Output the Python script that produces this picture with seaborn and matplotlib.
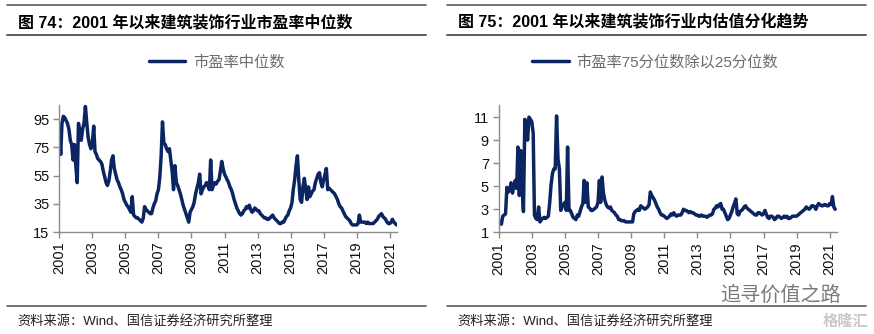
import numpy as np
import pandas as pd
import matplotlib
matplotlib.use("Agg")
import matplotlib.pyplot as plt
import matplotlib.dates as mdates
from matplotlib.lines import Line2D
import seaborn as sns

# ---------------- data (monthly) ----------------
start_month = "2001-01-01"

pe_median = [
    # 2001
    86, 70, 92, 97, 96, 94, 92, 88, 80, 77, 66, 77,
    # 2002
    62, 50, 92, 85, 80, 88, 92, 104, 92, 82, 77, 74,
    # 2003
    78, 90, 72, 70, 67, 66, 65, 63, 58, 54, 50, 48,
    # 2004
    51, 58, 66, 69, 60, 56, 52, 50, 47, 45, 42, 38,
    # 2005
    36, 34, 33, 31, 29, 40, 27, 26, 25, 25, 24, 23,
    # 2006
    22, 25, 33, 31, 30, 29, 28, 28, 32, 35, 37, 42,
    # 2007
    45, 54, 68, 93, 78, 77, 74, 72, 74, 66, 58, 45,
    # 2008
    62, 50, 48, 45, 42, 38, 34, 31, 28, 25, 22, 29,
    # 2009
    31, 33, 36, 42, 46, 50, 56, 42, 45, 47, 48, 50,
    # 2010
    48, 45, 66, 45, 48, 50, 49, 51, 52, 58, 65, 60,
    # 2011
    56, 54, 52, 50, 47, 45, 42, 38, 35, 32, 30, 28,
    # 2012
    27, 28, 30, 31, 33, 32, 34, 31, 29, 30, 32, 31,
    # 2013
    30, 30, 28, 27, 26, 25, 25, 24, 24, 25, 26, 27,
    # 2014
    25, 24, 23, 22, 21, 21, 22, 22, 24, 26, 27, 30,
    # 2015
    32, 36, 45, 52, 62, 69, 52, 38, 36, 47, 53, 45,
    # 2016
    38, 47, 40, 42, 44, 45, 50, 53, 56, 57, 50, 47,
    # 2017
    52, 56, 60, 45, 46, 45, 44, 43, 42, 40, 38, 35,
    # 2018
    33, 32, 30, 28, 26, 25, 24, 23, 21, 20, 20, 20,
    # 2019
    20, 21, 27, 22, 22, 22, 22, 21, 22, 21, 21, 21,
    # 2020
    21, 22, 23, 24, 26, 27, 28, 26, 25, 24, 22, 21,
    # 2021
    21, 22, 24, 22, 21, 20,
]

pe_q75_q25 = [
    # 2001
    2.0, 1.8, 1.7, 2.4, 2.5, 2.6, 4.9, 4.5, 4.7, 5.3, 4.4, 5.0,
    # 2002
    5.5, 4.8, 8.4, 4.2, 8.1, 5.0, 2.8, 10.8, 10.0, 9.0, 11.0, 10.8,
    # 2003
    10.6, 9.6, 2.5, 2.2, 2.1, 3.2, 1.9, 2.1, 2.2, 2.3, 2.2, 2.3,
    # 2004
    2.4, 3.6, 5.1, 6.1, 6.5, 6.5, 11.1, 7.4, 6.5, 2.9, 3.2, 3.4,
    # 2005
    3.6, 2.9, 8.4, 2.9, 2.9, 2.6, 2.3, 2.2, 2.1, 2.5, 2.4, 2.8,
    # 2006
    3.2, 3.5, 5.5, 3.6, 5.3, 3.2, 3.1, 2.9, 2.9, 3.0, 3.1, 3.2,
    # 2007
    3.6, 5.5, 3.6, 5.8, 4.4, 3.8, 3.4, 3.2, 3.1, 3.2, 2.9, 2.8,
    # 2008
    2.7, 2.5, 2.4, 2.1, 2.1, 2.0, 2.0, 2.0, 1.9, 1.9, 1.9, 1.9,
    # 2009
    1.9, 1.9, 2.6, 2.8, 2.9, 3.0, 2.9, 3.3, 3.2, 3.1, 3.0, 3.1,
    # 2010
    3.2, 3.4, 4.5, 4.2, 4.0, 3.8, 3.5, 3.2, 3.0, 2.7, 2.5, 2.5,
    # 2011
    2.4, 2.3, 2.2, 2.3, 2.4, 2.6, 2.5, 2.7, 2.5, 2.4, 2.5, 2.5,
    # 2012
    2.5, 2.7, 3.0, 2.9, 2.9, 2.8, 2.7, 2.8, 2.7, 2.7, 2.6, 2.5,
    # 2013
    2.5, 2.4, 2.4, 2.5, 2.4, 2.4, 2.4, 2.3, 2.4, 2.5, 2.5, 2.6,
    # 2014
    3.0, 3.1, 3.3, 3.2, 3.4, 3.5, 3.0, 3.0, 2.7, 2.4, 2.1, 2.2,
    # 2015
    2.5, 2.8, 3.2, 3.5, 3.9, 2.6, 2.5, 2.8, 2.9, 3.0, 3.2, 3.3,
    # 2016
    3.1, 3.0, 2.9, 2.8, 2.7, 2.6, 2.5, 2.5, 2.7, 2.7, 2.6, 2.5,
    # 2017
    2.6, 2.9, 2.6, 2.3, 2.2, 2.4, 2.4, 2.3, 2.1, 2.2, 2.4, 2.4,
    # 2018
    2.3, 2.2, 2.3, 2.4, 2.3, 2.4, 2.2, 2.2, 2.3, 2.4, 2.4, 2.4,
    # 2019
    2.4, 2.5, 2.6, 2.7, 2.8, 2.9, 3.0, 3.2, 3.1, 3.0, 3.1, 3.3,
    # 2020
    3.3, 3.2, 3.0, 3.3, 3.5, 3.4, 3.3, 3.3, 3.4, 3.4, 3.3, 3.3,
    # 2021
    3.5, 3.4, 4.1, 3.2, 3.0,
]

tick_years = list(range(2001, 2022, 2))
left_yticks = [15, 35, 55, 75, 95]
right_yticks = [1, 3, 5, 7, 9, 11]

left_title = "图 74：2001 年以来建筑装饰行业市盈率中位数"
right_title = "图 75：2001 年以来建筑装饰行业内估值分化趋势"
left_label = "市盈率中位数"
right_label = "市盈率75分位数除以25分位数"
source_text = "资料来源：Wind、国信证券经济研究所整理"

# ---------------- style ----------------
sns.set_theme(style="ticks")
plt.rcParams['font.family'] = ['Liberation Sans', 'Noto Sans CJK SC', 'DejaVu Sans']

NAVY = "#0b2462"
W, H = 874, 334

fig = plt.figure(figsize=(W / 100, H / 100), dpi=100)
fig.patch.set_facecolor("white")

df1 = pd.DataFrame({"date": pd.date_range(start_month, periods=len(pe_median), freq="MS"),
                    "value": pe_median})
df2 = pd.DataFrame({"date": pd.date_range(start_month, periods=len(pe_q75_q25), freq="MS"),
                    "value": pe_q75_q25})

ax1 = fig.add_axes([59.3 / W, 1 - 232 / H, 337.7 / W, 127 / H])
ax2 = fig.add_axes([498.7 / W, 1 - 232.3 / H, 338.3 / W, 127.3 / H])

sns.lineplot(data=df1, x="date", y="value", ax=ax1, color=NAVY, lw=2.5, label=left_label)
sns.lineplot(data=df2, x="date", y="value", ax=ax2, color=NAVY, lw=2.5, label=right_label)

x0 = pd.Timestamp("2001-01-01")
x1 = pd.Timestamp("2021-06-10")

for ax, ylo, yhi, yt in [(ax1, 15, 105, left_yticks), (ax2, 1, 12.05, right_yticks)]:
    ax.set_xlim(x0, x1)
    ax.set_ylim(ylo, yhi)
    ax.set_yticks(yt)
    ax.set_xticks([pd.Timestamp(f"{y}-01-01") for y in tick_years])
    ax.set_xticklabels([str(y) for y in tick_years], rotation=90)
    ax.set_xlabel("")
    ax.set_ylabel("")
    for s in ["top", "right"]:
        ax.spines[s].set_visible(False)
    for s in ["left", "bottom"]:
        ax.spines[s].set_color("#8c8c8c")
        ax.spines[s].set_linewidth(1.0)
    ax.tick_params(axis="both", length=4, width=1.0, color="#8c8c8c",
                   labelsize=10.5, labelcolor="#111111", pad=3)
    ax.set_facecolor("white")
    ax.grid(False)

# legends centred above plots
ax1.legend(loc="center", bbox_to_anchor=(216.5 / W, 1 - 62 / H), bbox_transform=fig.transFigure,
           frameon=False, handlelength=2.4, handletextpad=0.5, fontsize=11,
           labelcolor="#6b6b6b")
ax2.legend(loc="center", bbox_to_anchor=(655 / W, 1 - 62 / H), bbox_transform=fig.transFigure,
           frameon=False, handlelength=2.4, handletextpad=0.5, fontsize=11,
           labelcolor="#6b6b6b")

# titles
fig.text(18 / W, 1 - 22 / H, left_title, fontsize=11.5, fontweight="bold",
         ha="left", va="center", color="#000000")
fig.text(458 / W, 1 - 22 / H, right_title, fontsize=11.5, fontweight="bold",
         ha="left", va="center", color="#000000")

# horizontal rules
for xa, xb in [(7, 426), (447, 866)]:
    for yy, lw in [(5, 1.2), (35, 1.4), (306, 1.2)]:
        fig.add_artist(Line2D([xa / W, xb / W], [1 - yy / H, 1 - yy / H],
                              transform=fig.transFigure, color="#5a5a5a", lw=lw))

# source notes
fig.text(17 / W, 1 - 321 / H, source_text, fontsize=9.5, ha="left", va="center", color="#222222")
fig.text(457 / W, 1 - 321 / H, source_text, fontsize=9.5, ha="left", va="center", color="#222222")

# watermark
fig.text(720 / W, 1 - 295 / H, "追寻价值之路", fontsize=14.5, ha="left", va="center", color="#7a7a7a")
fig.text(868 / W, 1 - 322 / H, "格隆汇", fontsize=11, fontweight="bold", ha="right", va="center",
         color="#c8c8c8")

fig.savefig("out.png", dpi=100, facecolor="white")
